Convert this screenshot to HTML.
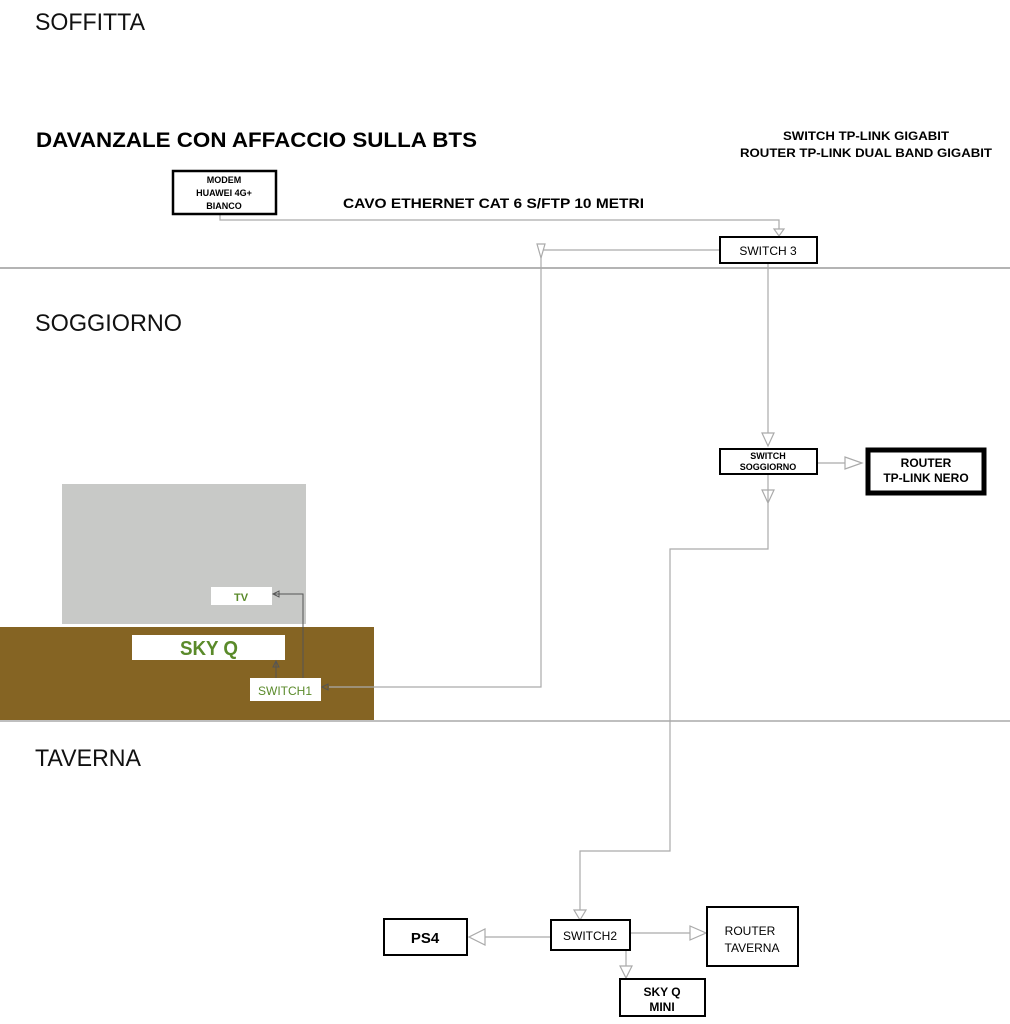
<!DOCTYPE html>
<html><head><meta charset="utf-8"><style>
html,body{margin:0;padding:0;background:#fff;}
svg{display:block;}
text{font-family:"Liberation Sans",sans-serif;}
</style></head><body>
<svg width="1010" height="1024" viewBox="0 0 1010 1024" xmlns="http://www.w3.org/2000/svg">
<rect width="1010" height="1024" fill="#fff"/>
<text x="35" y="30" font-size="24" fill="#111" textLength="110" lengthAdjust="spacingAndGlyphs">SOFFITTA</text>
<text x="36" y="147" font-size="21" font-weight="bold" fill="#000" textLength="441" lengthAdjust="spacingAndGlyphs">DAVANZALE CON AFFACCIO SULLA BTS</text>
<text x="866" y="140" font-size="12" font-weight="bold" text-anchor="middle" textLength="166" lengthAdjust="spacingAndGlyphs">SWITCH TP-LINK GIGABIT</text>
<text x="866" y="157" font-size="12" font-weight="bold" text-anchor="middle" textLength="252" lengthAdjust="spacingAndGlyphs">ROUTER TP-LINK DUAL BAND GIGABIT</text>
<text x="35" y="331" font-size="24" fill="#111" textLength="147" lengthAdjust="spacingAndGlyphs">SOGGIORNO</text>
<text x="35" y="766" font-size="24" fill="#111" textLength="106" lengthAdjust="spacingAndGlyphs">TAVERNA</text>
<text x="343" y="208" font-size="14" font-weight="bold" textLength="301" lengthAdjust="spacingAndGlyphs">CAVO ETHERNET CAT 6 S/FTP 10 METRI</text>

<line x1="0" y1="268" x2="1010" y2="268" stroke="#888" stroke-width="1.2"/>
<line x1="0" y1="721" x2="1010" y2="721" stroke="#999" stroke-width="1.2"/>

<rect x="62" y="484" width="244" height="140" fill="#c8c9c7"/>
<rect x="0" y="627" width="374" height="93" fill="#856423"/>
<rect x="211" y="587" width="61" height="18" fill="#fff"/>
<text x="241" y="601" font-size="11" font-weight="bold" fill="#5a8a2a" text-anchor="middle">TV</text>
<rect x="132" y="635" width="153" height="25" fill="#fff"/>
<text x="209" y="655" font-size="20" font-weight="bold" fill="#5a8a2a" text-anchor="middle" textLength="58" lengthAdjust="spacingAndGlyphs">SKY Q</text>
<rect x="250" y="678" width="71" height="23" fill="#fff"/>
<text x="285" y="695" font-size="12" fill="#5a8a2a" text-anchor="middle">SWITCH1</text>
<g stroke="#555" fill="none" stroke-width="1">
<polyline points="303,678 303,594 274,594"/>
<polygon points="273,594 279,591 279,597"/>
<line x1="276" y1="678" x2="276" y2="662"/>
<polygon points="276,661 273,667 279,667"/>
<polygon points="322,687 328,684 328,690"/>
</g>

<g stroke="#aaa" fill="none" stroke-width="1.2">
<polyline points="220,214 220,220 779,220 779,229"/>
<polygon points="774,229 784,229 779,236" fill="#fff"/>
<polyline points="720,250 541,250 541,687 329,687"/>
<polygon points="537,244 545,244 541,258" fill="#fff"/>
<line x1="768" y1="263" x2="768" y2="433"/>
<polygon points="762,433 774,433 768,446" fill="#fff"/>
<line x1="817" y1="463" x2="845" y2="463"/>
<polygon points="845,457 845,469 862,463" fill="#fff"/>
<polygon points="762,490 774,490 768,503" fill="#fff"/>
<polyline points="768,474 768,549 670,549 670,851 580,851 580,918"/>
<polygon points="574,910 586,910 580,920" fill="#fff"/>
<line x1="550" y1="937" x2="485" y2="937"/>
<polygon points="485,929 485,945 469,937" fill="#fff"/>
<line x1="630" y1="933" x2="690" y2="933"/>
<polygon points="690,926 690,940 706,933" fill="#fff"/>
<line x1="626" y1="950" x2="626" y2="966"/>
<polygon points="620,966 632,966 626,978" fill="#fff"/>
</g>

<g fill="#fff" stroke="#000">
<rect x="173" y="171" width="103" height="43" stroke-width="2.5"/>
<rect x="720" y="237" width="97" height="26" stroke-width="2"/>
<rect x="720" y="449" width="97" height="25" stroke-width="2"/>
<rect x="868" y="450" width="116" height="43" stroke-width="5"/>
<rect x="551" y="920" width="79" height="30" stroke-width="2"/>
<rect x="384" y="919" width="83" height="36" stroke-width="2"/>
<rect x="707" y="907" width="91" height="59" stroke-width="2"/>
<rect x="620" y="979" width="85" height="37" stroke-width="2"/>
</g>
<g font-weight="bold" text-anchor="middle">
<text x="224" y="183" font-size="9">MODEM</text>
<text x="224" y="196" font-size="9">HUAWEI 4G+</text>
<text x="224" y="209" font-size="9">BIANCO</text>
<text x="926" y="467" font-size="12">ROUTER</text>
<text x="926" y="482" font-size="12">TP-LINK NERO</text>
<text x="768" y="459" font-size="9">SWITCH</text>
<text x="768" y="470" font-size="9">SOGGIORNO</text>
<text x="425" y="943" font-size="15">PS4</text>
<text x="662" y="996" font-size="12">SKY Q</text>
<text x="662" y="1011" font-size="12">MINI</text>
</g>
<g text-anchor="middle" font-size="12">
<text x="768" y="255">SWITCH 3</text>
<text x="590" y="940">SWITCH2</text>
<text x="750" y="935">ROUTER</text>
<text x="752" y="952">TAVERNA</text>
</g>
</svg>
</body></html>
